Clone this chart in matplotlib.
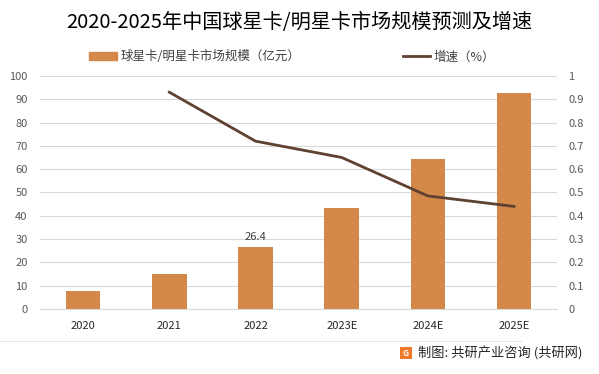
import numpy as np
import matplotlib
matplotlib.use('Agg')
import matplotlib.pyplot as plt
from matplotlib.patches import Rectangle
from matplotlib.lines import Line2D
from matplotlib.ticker import FuncFormatter

plt.rcParams['font.family'] = ['Noto Sans CJK SC', 'DejaVu Sans']
plt.rcParams['axes.unicode_minus'] = False

# 数据
years = ['2020', '2021', '2022', '2023E', '2024E', '2025E']
market_size = [7.8, 15.1, 26.4, 43.4, 64.4, 92.8]     # 亿元
growth_years = ['2021', '2022', '2023E', '2024E', '2025E']
growth_rate = [0.93, 0.72, 0.65, 0.485, 0.44]

bar_color = '#D4894B'
line_color = '#5E4130'
grid_color = '#D9D9D9'
text_color = '#595959'

fig = plt.figure(figsize=(5.99, 3.74), dpi=100)
ax = fig.add_axes([0.067, 0.174, 0.863, 0.623])
ax2 = ax.twinx()

x = np.arange(len(years))
ax.bar(x, market_size, width=0.4, color=bar_color, zorder=3)
ax.text(2, market_size[2] + 2.2, f'{market_size[2]}', ha='center', va='bottom',
        fontsize=8, color='#404040')

gx = [years.index(y) for y in growth_years]
ax2.plot(gx, growth_rate, color=line_color, linewidth=2.0, zorder=4)

# 坐标轴
ax.set_xlim(-0.5, len(years) - 0.5)
ax.set_ylim(0, 100)
ax.set_yticks(np.arange(0, 101, 10))
ax2.set_ylim(0, 1)
ax2.set_yticks(np.arange(0, 1.01, 0.1))
ax2.yaxis.set_major_formatter(FuncFormatter(lambda v, p: f'{v:.1f}'.rstrip('0').rstrip('.') if v else '0'))

ax.set_xticks(x)
ax.set_xticklabels(years)
ax.grid(axis='y', color=grid_color, linewidth=0.8, zorder=0)
ax.set_axisbelow(True)
for a in (ax, ax2):
    for s in a.spines.values():
        s.set_visible(False)
    a.tick_params(length=0, labelsize=8, colors=text_color)
ax.tick_params(axis='x', colors='#262626', pad=9)
ax.tick_params(axis='y', pad=9)
ax2.tick_params(axis='y', pad=8)
ax.spines['bottom'].set_visible(True)
ax.spines['bottom'].set_color(grid_color)
ax.spines['bottom'].set_linewidth(0.8)

# 标题
fig.text(0.5, 0.94, '2020-2025年中国球星卡/明星卡市场规模预测及增速', ha='center', va='center',
         fontsize=14.5, color='black')

# 图例
handles = [Rectangle((0, 0), 1, 1, color=bar_color),
           Line2D([], [], color=line_color, linewidth=2.0)]
labels = ['球星卡/明星卡市场规模（亿元）', '增速（%）']
fig.legend(handles, labels, loc='center', bbox_to_anchor=(0.488, 0.848), ncol=2,
           frameon=False, fontsize=9, handlelength=2.2, handleheight=0.6,
           columnspacing=8.2, handletextpad=0.3, labelcolor='#404040')

# 底部分隔线与来源
fig.add_artist(Line2D([0.0, 0.87], [0.088, 0.088], color='#E6E6E6', linewidth=0.8))
fig.patches.append(Rectangle((0.667, 0.04), 0.02, 0.032, transform=fig.transFigure,
                             facecolor='#F07A2A', edgecolor='none'))
fig.text(0.677, 0.056, 'G', ha='center', va='center', fontsize=6, color='white', fontweight='bold')
fig.text(0.697, 0.056, '制图: 共研产业咨询 (共研网)', ha='left', va='center',
         fontsize=9.5, color='#262626')

fig.savefig('out.png', dpi=100)
